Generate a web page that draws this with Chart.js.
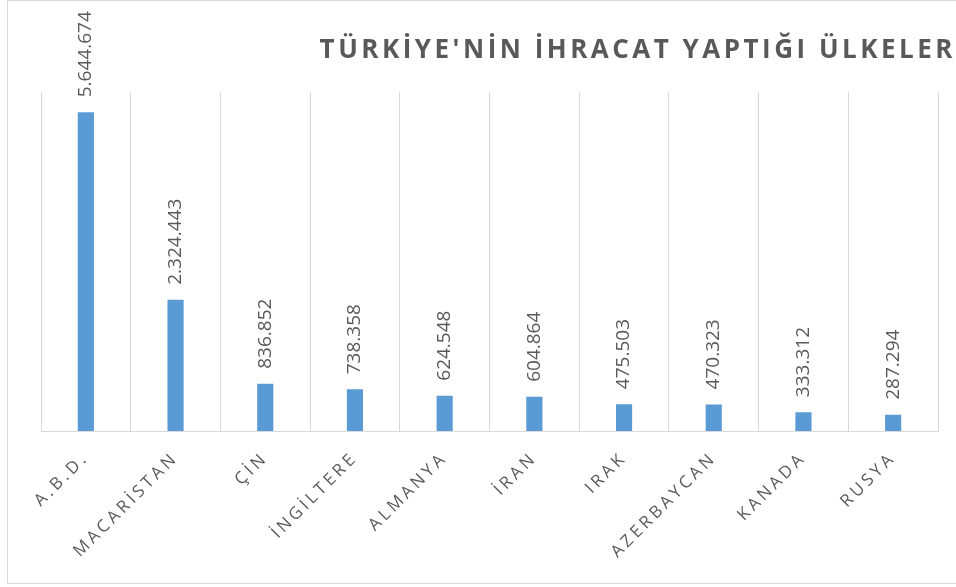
<!DOCTYPE html>
<html><head><meta charset="utf-8">
<script src="https://cdn.jsdelivr.net/npm/chart.js@4.4.1/dist/chart.umd.min.js"></script>
<style>
html,body{margin:0;padding:0;background:#fff;overflow:hidden;width:956px;height:587px;}
#frame{position:absolute;left:7px;top:0;width:1000px;height:584px;box-sizing:border-box;border:1px solid #d9d9d9;}
#c{position:absolute;left:0;top:0;}
</style></head><body>
<div id="frame"></div>
<canvas id="c" width="956" height="587"></canvas>
<script>
const titleText = "TÜRKİYE'NİN İHRACAT YAPTIĞI ÜLKELER";
const categories = ['A.B.D.', 'MACARİSTAN', 'ÇİN', 'İNGİLTERE', 'ALMANYA', 'İRAN', 'IRAK', 'AZERBAYCAN', 'KANADA', 'RUSYA'];
const exportValues = [5644674, 2324443, 836852, 738358, 624548, 604864, 475503, 470323, 333312, 287294];
const yMin = 0;
const yMax = 6000000;

function fmt(v){ return String(v).replace(/\B(?=(\d{3})+(?!\d))/g, '.'); }

const spacingPlugin = {
  id: 'spacing',
  beforeUpdate(chart){ chart.ctx.letterSpacing = '3.5px'; },
  beforeDraw(chart){ chart.ctx.letterSpacing = '3.5px'; }
};
const labelPlugin = {
  id: 'barLabels',
  afterDatasetsDraw(chart){
    const ctx = chart.ctx;
    const meta = chart.getDatasetMeta(0);
    ctx.save();
    ctx.letterSpacing = '0px';
    ctx.font = '19px "Open Sans"';
    ctx.fillStyle = '#595959';
    ctx.textAlign = 'left';
    ctx.textBaseline = 'middle';
    meta.data.forEach((bar, i) => {
      ctx.save();
      ctx.translate(bar.x, bar.y - 15);
      ctx.rotate(-Math.PI / 2);
      ctx.fillText(fmt(exportValues[i]), 0, 0);
      ctx.restore();
    });
    ctx.restore();
  }
};

new Chart(document.getElementById('c'), {
  type: 'bar',
  data: {
    labels: categories,
    datasets: [{
      data: exportValues,
      backgroundColor: '#5B9BD5',
      borderWidth: 0,
      categoryPercentage: 1,
      barPercentage: 0.18
    }]
  },
  options: {
    responsive: false,
    animation: false,
    devicePixelRatio: 1,
    layout: { padding: 0 },
    plugins: {
      legend: { display: false },
      tooltip: { enabled: false },
      title: {
        display: true, text: titleText, align: 'end', color: '#595959',
        font: { family: '"Open Sans"', size: 26, weight: 'bold' },
        padding: { top: 35, bottom: 26 }
      }
    },
    scales: {
      x: {
        grid: { color: '#d9d9d9', offset: true, drawTicks: false, tickLength: 0 },
        border: { color: '#d9d9d9' },
        ticks: { color: '#595959', font: { family: '"Open Sans"', size: 17 }, minRotation: 45, maxRotation: 45, autoSkip: false, padding: 17 },
        afterFit(s){ s.height = 156; }
      },
      y: {
        min: yMin, max: yMax,
        ticks: { display: false }, grid: { display: false }, border: { display: false },
        afterFit(s){ s.width = 41; }
      },
      y2: {
        position: 'right',
        ticks: { display: false }, grid: { display: false }, border: { display: false },
        afterFit(s){ s.width = 18; }
      }
    }
  },
  plugins: [spacingPlugin, labelPlugin]
});
</script>
</body></html>
